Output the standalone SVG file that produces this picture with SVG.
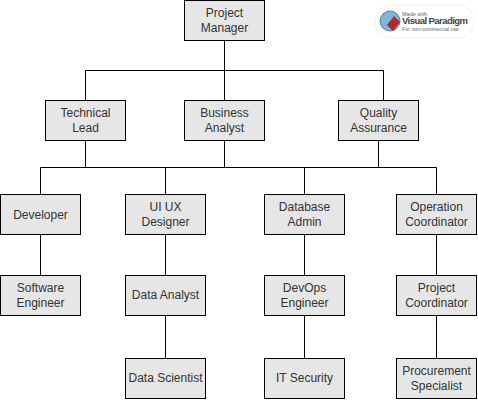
<svg xmlns="http://www.w3.org/2000/svg" width="478" height="400" viewBox="0 0 478 400">
<style>
.n{fill:#e6e6e6;stroke:#000;stroke-width:1}
.t{font-family:"Liberation Sans",Arial,sans-serif;font-size:12px;fill:#333;text-anchor:middle}
.c{fill:none;stroke:#000;stroke-width:1}
</style>
<rect width="478" height="400" fill="#fff"/>
<g id="connectors">
<path class="c" d="M224.500 40V70.500M85.500 100.500V70.500H383.500V100.500M224.500 70.500V100.500"/>
<path class="c" d="M85.500 140.500V167.500M224.500 140.500V167.500M378.500 140.500V167.500M40.500 194.500V167.500H436.500V194.500M165.500 167.500V194.500M304.500 167.500V194.500"/>
<path class="c" d="M40.500 234.500V275M165.500 234.500V275M304.500 234.500V275M436.500 234.500V275"/>
<path class="c" d="M165.500 315.500V358M304.500 315.500V358M436.500 315.500V358"/>
</g>
<g id="project-manager"><rect class="n" x="184.500" y="0.500" width="80" height="40"/><text class="t" x="224.500" y="17">Project</text><text class="t" x="224.500" y="32">Manager</text></g>
<g id="technical-lead"><rect class="n" x="45.500" y="100.500" width="80" height="40"/><text class="t" x="85.500" y="117">Technical</text><text class="t" x="85.500" y="132">Lead</text></g>
<g id="business-analyst"><rect class="n" x="184.500" y="100.500" width="80" height="40"/><text class="t" x="224.500" y="117">Business</text><text class="t" x="224.500" y="132">Analyst</text></g>
<g id="quality-assurance"><rect class="n" x="338.500" y="100.500" width="80" height="40"/><text class="t" x="378.500" y="117">Quality</text><text class="t" x="378.500" y="132">Assurance</text></g>
<g id="developer"><rect class="n" x="0.500" y="194.500" width="80" height="40"/><text class="t" x="40.500" y="218.500">Developer</text></g>
<g id="ui-ux-designer"><rect class="n" x="125.500" y="194.500" width="80" height="40"/><text class="t" x="165.500" y="211">UI UX</text><text class="t" x="165.500" y="226">Designer</text></g>
<g id="database-admin"><rect class="n" x="264.500" y="194.500" width="80" height="40"/><text class="t" x="304.500" y="211">Database</text><text class="t" x="304.500" y="226">Admin</text></g>
<g id="operation-coordinator"><rect class="n" x="396.500" y="194.500" width="80" height="40"/><text class="t" x="436.500" y="211">Operation</text><text class="t" x="436.500" y="226">Coordinator</text></g>
<g id="software-engineer"><rect class="n" x="0.500" y="275.500" width="80" height="40"/><text class="t" x="40.500" y="292">Software</text><text class="t" x="40.500" y="307">Engineer</text></g>
<g id="data-analyst"><rect class="n" x="125.500" y="275.500" width="80" height="40"/><text class="t" x="165.500" y="299">Data Analyst</text></g>
<g id="devops-engineer"><rect class="n" x="264.500" y="275.500" width="80" height="40"/><text class="t" x="304.500" y="292">DevOps</text><text class="t" x="304.500" y="307">Engineer</text></g>
<g id="project-coordinator"><rect class="n" x="396.500" y="275.500" width="80" height="40"/><text class="t" x="436.500" y="292">Project</text><text class="t" x="436.500" y="307">Coordinator</text></g>
<g id="data-scientist"><rect class="n" x="125.500" y="358.500" width="80" height="40"/><text class="t" x="165.500" y="382">Data Scientist</text></g>
<g id="it-security"><rect class="n" x="264.500" y="358.500" width="80" height="40"/><text class="t" x="304.500" y="382">IT Security</text></g>
<g id="procurement-specialist"><rect class="n" x="396.500" y="358.500" width="80" height="40"/><text class="t" x="436.500" y="375">Procurement</text><text class="t" x="436.500" y="390">Specialist</text></g>
<g id="badge">
<rect x="375" y="5" width="99" height="33" rx="16.500" fill="#fff" stroke="#f0f0f0"/>
<circle cx="390" cy="21" r="10" fill="#7fb6d8" stroke="#4a86a8"/>
<path d="M394 16l6 6-7 9-6-6z" fill="#b5272d"/>
<text x="402" y="15.500" font-family="Liberation Sans,sans-serif" font-size="5.500" fill="#666">Made with</text>
<text x="402" y="24" font-family="Liberation Sans,sans-serif" font-size="9.500" font-weight="bold" fill="#444" textLength="66">Visual Paradigm</text>
<text x="402" y="31" font-family="Liberation Sans,sans-serif" font-size="5.300" fill="#666" textLength="57">For non-commercial use</text>
</g>
</svg>
